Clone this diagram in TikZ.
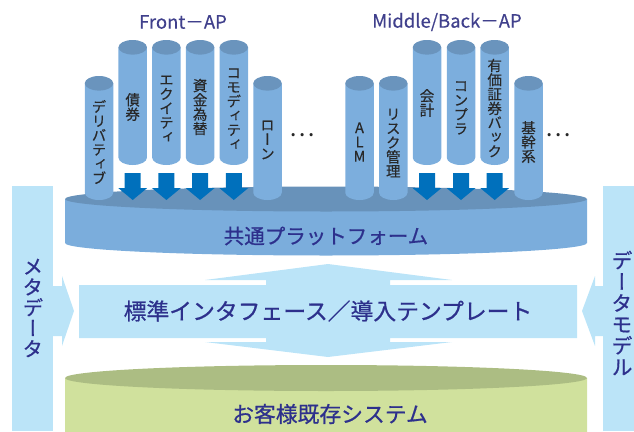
\documentclass[tikz,border=0pt]{standalone}
\usepackage{fontspec}
\setmainfont{Noto Sans CJK JP}
\newfontfamily\jpv[RawFeature={+vert},FakeBold=0.35]{Noto Sans CJK JP}
\newfontfamily\jpvb[RawFeature={+vert},FakeBold=0.7]{Noto Sans CJK JP}
\newfontfamily\jpb[FakeBold=0.7]{Noto Sans CJK JP}
\newfontfamily\jpt[FakeBold=0.3]{Noto Sans CJK JP}
\definecolor{lblue}{RGB}{187,228,248}
\definecolor{platside}{RGB}{123,173,220}
\definecolor{plattop}{RGB}{104,146,186}
\definecolor{cylbody}{RGB}{124,174,221}
\definecolor{cyltop}{RGB}{106,148,189}
\definecolor{arrowblue}{RGB}{0,112,188}
\definecolor{legside}{RGB}{208,225,157}
\definecolor{legtop}{RGB}{172,189,131}
\definecolor{navy}{RGB}{45,48,140}
\definecolor{titlecol}{RGB}{64,64,140}
\definecolor{labelcol}{RGB}{40,40,40}
\newcommand\drawcyl[4]{%
  \fill[cylbody] (#1-#2,#3+7.3) -- (#1-#2,#4-7.3) arc[start angle=180,end angle=0,x radius=#2,y radius=7.3] -- (#1+#2,#3+7.3) -- cycle;
  \fill[cyltop] (#1,#3+7.3) ellipse[x radius=#2,y radius=7.3];}
\newcommand\downarr[1]{%
  \fill[arrowblue] (#1-8,173) -- (#1+8,173) -- (#1+8,188) -- (#1+14.5,188) -- (#1,200) -- (#1-14.5,188) -- (#1-8,188) -- cycle;}
\tikzset{
  cyllabel/.style={text=labelcol,align=center,inner sep=0pt,font=\jpv\fontsize{14.5}{14.3}\selectfont},
  titlelabel/.style={text=titlecol,inner sep=0pt,font=\jpt\fontsize{18.5}{20}\selectfont},
  biglabel/.style={text=navy,inner sep=0pt},
  sidelabel/.style={text=navy,align=center,inner sep=0pt},
  dotslabel/.style={text=labelcol,inner sep=0pt,font=\fontsize{24}{24}\selectfont}
}
\begin{document}
\begin{tikzpicture}[x=1pt,y=-1pt]
\useasboundingbox (0,0) rectangle (634,431);
\clip (0,0) rectangle (634,431);
% side bars
\fill[lblue] (12,186) rectangle (53,431);
\fill[lblue] (603,186) rectangle (634,431);
% side arrows
\fill[lblue] (53,286) -- (62,286) -- (62,276) -- (74,311) -- (62,346) -- (62,336) -- (53,336) -- cycle;
\fill[lblue] (603,286) -- (595,286) -- (595,276) -- (582,311) -- (595,346) -- (595,336) -- (603,336) -- cycle;
% middle band with double arrow
\fill[lblue] (79,285) -- (266,285) -- (266,280) -- (205,280) -- (328,264) -- (452,280) -- (390,280) -- (390,285) -- (577,285) -- (577,338) -- (390,338) -- (390,342) -- (452,342) -- (328,357) -- (205,342) -- (266,342) -- (266,338) -- (79,338) -- cycle;
% legacy cylinder
\fill[legside] (65,378) -- (65,432) arc[start angle=180,end angle=0,x radius=261,y radius=13] -- (587,378) -- cycle;
\fill[legtop] (326,378) ellipse[x radius=261,y radius=13];
% platform
\fill[platside] (65,199) -- (65,243) arc[start angle=180,end angle=0,x radius=261,y radius=12.5] -- (587,199) -- cycle;
\fill[plattop] (326,199) ellipse[x radius=261,y radius=12.5];
% arrows
\downarr{132.7}\downarr{166.4}\downarr{200.1}\downarr{233.8}
\downarr{427}\downarr{461}\downarr{494.7}
% cylinders front
\drawcyl{99}{14.25}{76}{200}
\drawcyl{132.7}{14.25}{40}{165}
\drawcyl{166.4}{14.25}{40}{165}
\drawcyl{200.1}{14.25}{40}{165}
\drawcyl{233.8}{14.25}{40}{165}
\drawcyl{267.5}{14.25}{76}{200}
% cylinders middle/back
\drawcyl{359.5}{14.25}{76}{200}
\drawcyl{393.3}{14.25}{76}{200}
\drawcyl{427}{14.25}{40}{165}
\drawcyl{461}{14.25}{40}{165}
\drawcyl{494.7}{14.25}{40}{165}
\drawcyl{528.5}{14.25}{76}{200}
% labels
\node[cyllabel] (deriv) at (99,142) {デ\\リ\\バ\\テ\\ィ\\ブ};
\node[cyllabel] (bond) at (132.7,107) {債\\券};
\node[cyllabel] (equity) at (166.4,109) {エ\\ク\\イ\\テ\\ィ};
\node[cyllabel] (fx) at (200.1,107) {資\\金\\為\\替};
\node[cyllabel] (commod) at (233.8,109) {コ\\モ\\デ\\ィ\\テ\\ィ};
\node[cyllabel] (loan) at (267.5,140) {ロ\\ー\\ン};
\node[cyllabel] (alm) at (359.5,142) {A\\L\\M};
\node[cyllabel] (risk) at (393.3,143) {リ\\ス\\ク\\管\\理};
\node[cyllabel] (acct) at (427,103) {会\\計};
\node[cyllabel] (compl) at (461,108) {コ\\ン\\プ\\ラ};
\node[cyllabel] (secback) at (494.7,108) {有\\価\\証\\券\\バ\\ッ\\ク};
\node[cyllabel] (core) at (528.5,142) {基\\幹\\系};
\node[dotslabel] (dots1) at (302,135) {…};
\node[dotslabel] (dots2) at (558,135) {…};
\node[titlelabel] (front) at (183,22) {Front－AP};
\node[titlelabel] (midback) at (447,22) {Middle/Back－AP};
\node[biglabel,font=\jpb\fontsize{20.5}{22}\selectfont] (platform) at (326,236) {共通プラットフォーム};
\node[biglabel,font=\jpb\fontsize{22.8}{24}\selectfont] (iface) at (328,311) {標準インタフェース／導入テンプレート};
\node[biglabel,font=\jpb\fontsize{21.8}{24}\selectfont] (legacy) at (330,414) {お客様既存システム};
\node[sidelabel,font=\jpvb\fontsize{20.5}{20.6}\selectfont] (meta) at (33,308) {メ\\タ\\デ\\ー\\タ};
\node[sidelabel,font=\jpvb\fontsize{21}{21.3}\selectfont] (model) at (622,313) {デ\\ー\\タ\\モ\\デ\\ル};
\end{tikzpicture}
\end{document}
